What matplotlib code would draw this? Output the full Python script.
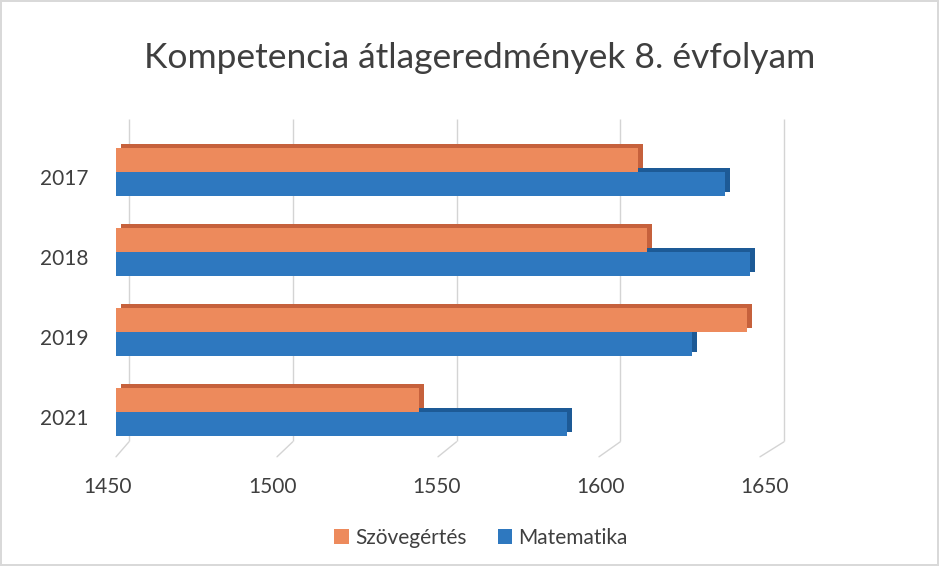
import matplotlib
matplotlib.use("Agg")
import matplotlib.pyplot as plt
import matplotlib.transforms as mtransforms
import numpy as np

years = ["2017", "2018", "2019", "2021"]
szoveg = [1612, 1615, 1646, 1544]
matek = [1639, 1647, 1629, 1590]
ticks = [1450, 1500, 1550, 1600, 1650]
series_names = ["Szövegértés", "Matematika"]

orange = "#ED8A5C"
orange_dark = "#C6613C"
blue = "#2E78BF"
blue_dark = "#1D5A96"
text_col = "#3F3F3F"

plt.rcParams['font.family'] = ['Lato', 'DejaVu Sans']

DPI = 100
fig = plt.figure(figsize=(9.39, 5.66), dpi=DPI)
fig.patch.set_edgecolor("#D9D9D9")
fig.patch.set_linewidth(1.5)
ax = fig.add_axes([116 / 939, 1 - 452 / 566, (760 - 116) / 939, 320 / 566])

y = np.arange(len(years))
h = 0.3


def px(dx, dy):
    return mtransforms.ScaledTranslation(dx / DPI, dy / DPI, fig.dpi_scale_trans)


# back wall gridlines + floor lines (3D look)
blend = mtransforms.blended_transform_factory(ax.transData, ax.transAxes)
for v in ticks:
    dx = 13 + 0.055 * (v - ticks[0])
    ax.vlines(v, 0.034, 1.04, transform=blend + px(dx, 0), color="#D4D4D4", lw=1,
              clip_on=False, zorder=0)
    ax.annotate("", xy=(v, -0.015), xycoords=blend, xytext=(dx, 15),
                textcoords="offset pixels",
                arrowprops=dict(arrowstyle="-", color="#D4D4D4", lw=1,
                                shrinkA=0, shrinkB=0), annotation_clip=False)

left = ticks[0]
# depth faces first, then front faces
ax.barh(y + h / 2, np.array(matek) - left, left=left, height=h, color=blue_dark,
        transform=ax.transData + px(5, 4), zorder=2)
ax.barh(y + h / 2, np.array(matek) - left, left=left, height=h, color=blue, zorder=3,
        label=series_names[1])
ax.barh(y - h / 2, np.array(szoveg) - left, left=left, height=h, color=orange_dark,
        transform=ax.transData + px(5, 4), zorder=4)
ax.barh(y - h / 2, np.array(szoveg) - left, left=left, height=h, color=orange, zorder=5,
        label=series_names[0])

ax.set_xlim(1450, 1650)
ax.set_ylim(len(years) - 0.5, -0.5)
ax.set_xticks(ticks)
ax.set_yticks(y)
ax.set_yticklabels(years)
for s in ax.spines.values():
    s.set_visible(False)
ax.tick_params(length=0, labelsize=15, colors=text_col)
ax.tick_params(axis="x", pad=18)
ax.tick_params(axis="y", pad=20)
for lab in ax.get_yticklabels():
    lab.set_transform(lab.get_transform() + px(0, -5))
for v, lab in zip(ticks, ax.get_xticklabels()):
    lab.set_transform(lab.get_transform() + px(-8 + 0.065 * (v - ticks[0]), 0))

fig.text(480 / 939, 1 - 58 / 566, "Kompetencia átlageredmények 8. évfolyam",
         ha="center", va="center", fontsize=25.5, color=text_col)

handles, labels = ax.get_legend_handles_labels()
leg = fig.legend(handles[::-1], labels[::-1], loc="center", ncol=2,
                 bbox_to_anchor=(481 / 939, 1 - 538 / 566), frameon=False,
                 fontsize=15, handlelength=0.7, handleheight=0.7,
                 handletextpad=0.3, columnspacing=1.5)
for t in leg.get_texts():
    t.set_color(text_col)

fig.savefig("out.png", dpi=DPI)
